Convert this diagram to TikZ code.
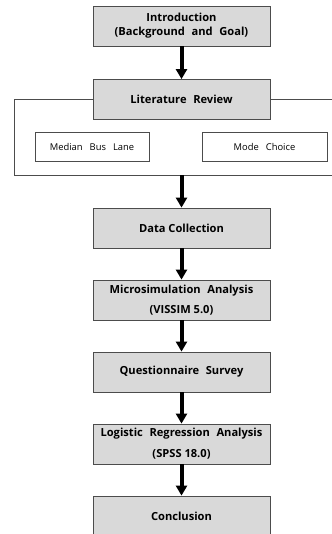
\documentclass[tikz,border=0pt]{standalone}
\usepackage{fontspec}
\setmainfont{Open Sans}
\usetikzlibrary{arrows.meta}
\newcommand{\widesp}{\spaceskip=0.6em plus 0.1em\relax}
\newcommand{\subsp}{\spaceskip=0.75em plus 0.1em\relax}
\tikzset{
  stepbox/.style={draw=black!70, fill=gray!30, line width=0.7pt,
    minimum width=5.31cm, minimum height=1.2cm, align=center,
    font=\fontsize{9.5}{11}\selectfont\bfseries},
  subbox/.style={draw=black!70, fill=white, line width=0.6pt,
    minimum height=0.87cm, align=center,
    font=\fontsize{8}{9}\selectfont\subsp},
  flow/.style={line width=1.2mm, -{Triangle[width=3.3mm,length=3mm]}},
  frame/.style={draw=black!70, line width=0.6pt}
}
\begin{document}
\begin{tikzpicture}[x=0.03cm,y=-0.03cm]
    \useasboundingbox (0,0) rectangle (331,534);
    % main steps
    \node[stepbox] (intro) at (181.5,26) {\widesp Introduction\\[1pt]\widesp(Background and Goal)};
    \node[stepbox] (lit) at (181.5,99.5) {\widesp Literature Review};
    \node[stepbox] (data) at (181.5,228) {Data Collection};
    \node[stepbox] (micro) at (181.5,300) {\widesp Microsimulation Analysis\\[6pt](VISSIM 5.0)};
    \node[stepbox] (quest) at (181.5,372) {\widesp Questionnaire Survey};
    \node[stepbox] (logit) at (181.5,444) {\widesp Logistic Regression Analysis\\[7pt](SPSS 18.0)};
    \node[stepbox] (concl) at (181.5,516) {Conclusion};
    % literature topics
    \node[subbox, minimum width=3.42cm] (bus) at (92,146.5) {Median Bus Lane};
    \node[subbox, minimum width=3.75cm] (mode) at (264.5,146.5) {Mode Choice};
    % frame round the review
    \coordinate (frameout) at (181.5,175);
    \draw[frame] (lit.west) -- (14,99.5) -- (14,175) -- (345,175);
    \draw[frame] (lit.east) -- (345,99.5);
    % arrows
    \draw[flow] (intro) -- (lit);
    \draw[flow] (frameout) -- (data);
    \draw[flow] (data) -- (micro);
    \draw[flow] (micro) -- (quest);
    \draw[flow] (quest) -- (logit);
    \draw[flow] (logit) -- (concl);
\end{tikzpicture}
\end{document}
